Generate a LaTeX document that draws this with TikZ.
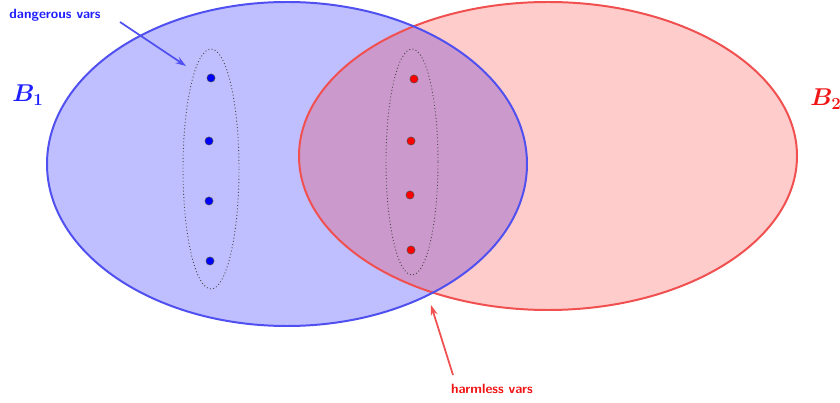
\documentclass[tikz,border=0pt]{standalone}
\usepackage{amsmath,bm}
\usetikzlibrary{arrows.meta}
\definecolor{bline}{RGB}{80,80,240}
\definecolor{rline}{RGB}{240,80,80}
\definecolor{btext}{RGB}{30,30,255}
\definecolor{rtext}{RGB}{240,20,20}
\tikzset{
  setB/.style={line width=1.7pt},
  group/.style={draw=black!70, dotted, line width=0.8pt},
  bdot/.style={circle, fill=blue, draw=black!70, line width=0.4pt, inner sep=0pt, minimum size=7pt},
  rdot/.style={circle, fill=red, draw=black!70, line width=0.4pt, inner sep=0pt, minimum size=7pt},
  lbl/.style={font=\sffamily\bfseries\fontsize{11.5}{13}\selectfont},
  arr/.style={-{Stealth[length=9pt,width=6pt]}, line width=1.5pt}
}
\begin{document}
\begin{tikzpicture}[x=0.03cm,y=-0.03cm]
\useasboundingbox (0,0) rectangle (840,403);
% sets
\fill[blue, fill opacity=0.25] (287,164) ellipse [x radius=240, y radius=162];
\fill[red, fill opacity=0.2] (548,156) ellipse [x radius=249, y radius=154];
\draw[setB, rline] (548,156) ellipse [x radius=249, y radius=154];
\draw[setB, bline] (287,164) ellipse [x radius=240, y radius=162];
% groups
\draw[group] (211,169) ellipse [x radius=28, y radius=120];
\draw[group] (412,162) ellipse [x radius=26, y radius=113];
% dots
\node[bdot] (b1) at (211,78) {};
\node[bdot] (b2) at (209,141) {};
\node[bdot] (b3) at (209,201) {};
\node[bdot] (b4) at (210,261) {};
\node[rdot] (r1) at (414,79) {};
\node[rdot] (r2) at (411,141) {};
\node[rdot] (r3) at (410,195) {};
\node[rdot] (r4) at (411,250) {};
% labels
\node[text=btext, font=\fontsize{22}{26}\selectfont] (B1) at (28,95) {$\boldsymbol{B_1}$};
\node[text=rtext, font=\fontsize{22}{26}\selectfont] (B2) at (826,99) {$\boldsymbol{B_2}$};
\node[lbl, text=btext] (dv) at (55,15) {dangerous vars};
\node[lbl, text=rtext] (hv) at (492,389) {harmless vars};
\coordinate (dvs) at (120,22);
\coordinate (dve) at (186,66);
\coordinate (hvs) at (453,375);
\coordinate (hve) at (431,305);
\draw[arr, bline] (dvs) -- (dve);
\draw[arr, rline] (hvs) -- (hve);
\end{tikzpicture}
\end{document}
